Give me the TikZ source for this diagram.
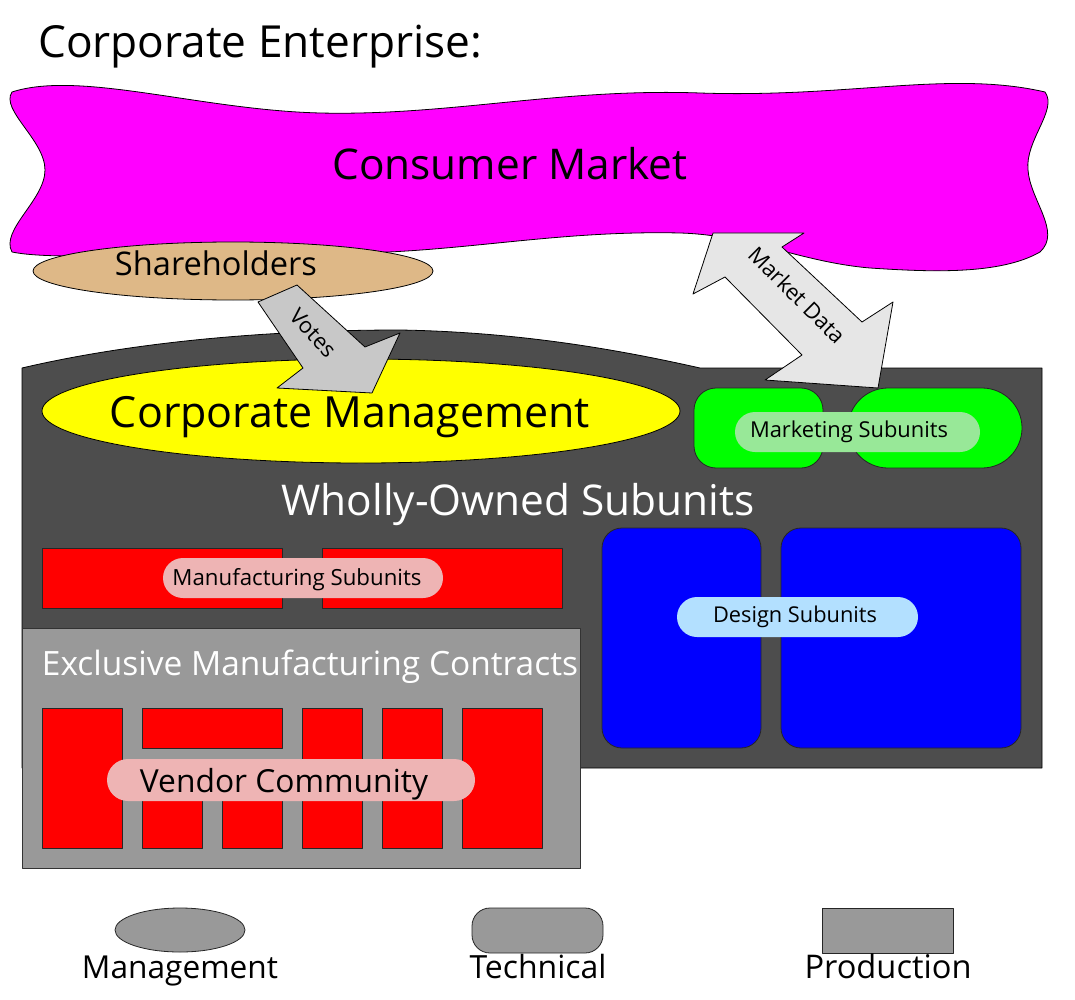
\documentclass[tikz,border=0pt]{standalone}
\usepackage{fontspec}
\setmainfont{Open Sans}
\usetikzlibrary{shapes.geometric}
\newcommand{\fitt}[2]{\resizebox{#1pt}{!}{#2}}
\definecolor{darkarea}{HTML}{4D4D4D}
\definecolor{midgray}{HTML}{999999}
\definecolor{tan}{HTML}{DEB887}
\definecolor{pinkpill}{HTML}{EEB4B4}
\definecolor{greenpill}{HTML}{98E898}
\definecolor{bluepill}{HTML}{B3E0FF}
\definecolor{lime}{HTML}{00FF00}
\definecolor{banner}{HTML}{FF00FF}
\definecolor{pureyellow}{HTML}{FFFF00}
\definecolor{purered}{HTML}{FF0000}
\definecolor{pureblue}{HTML}{0000FF}
\definecolor{arrowgray}{HTML}{C8C8C8}
\definecolor{arrowlight}{HTML}{E6E6E6}
\tikzset{
  txt/.style={inner sep=0pt, text=black},
  wtxt/.style={inner sep=0pt, text=white},
  outl/.style={draw=black, line width=0.8pt},
  redbox/.style={fill=purered, draw=black!85, line width=0.8pt},
  bluebox/.style={fill=pureblue, draw=black!85, line width=0.8pt, rounded corners=20pt},
  greenbox/.style={fill=lime, draw=black!85, line width=0.8pt},
  pill/.style={rounded corners=20pt},
  legendshape/.style={fill=midgray, draw=black!85, line width=0.8pt},
}
\begin{document}
\begin{tikzpicture}[x=1pt,y=-1pt,line join=round]
\useasboundingbox (0,0) rectangle (1075,1000);
\fill[white] (0,0) rectangle (1075,1000);

% title
\node[txt, anchor=base west] (title) at (38,58) {\fitt{444}{Corporate Enterprise:}};

% consumer market banner
\draw[outl, fill=banner] (12,92) .. controls (80,70) and (200,110) .. (320,113)
  .. controls (450,116) and (560,88) .. (700,93)
  .. controls (850,98) and (950,70) .. (1045,92)
  .. controls (1058,110) and (1025,140) .. (1028,170)
  .. controls (1030,200) and (1062,232) .. (1040,252)
  .. controls (1000,275) and (930,272) .. (870,268)
  .. controls (800,262) and (750,235) .. (680,233)
  .. controls (550,230) and (450,255) .. (330,253)
  .. controls (200,250) and (60,262) .. (12,252)
  .. controls (0,230) and (45,200) .. (45,170)
  .. controls (45,140) and (0,110) .. (12,92) -- cycle;
\node[txt, anchor=base] (cm) at (510,180) {\fitt{355}{Consumer Market}};

% wholly-owned area
\draw[outl, fill=darkarea] (22,368) .. controls (120,345) and (250,330) .. (400,330)
  .. controls (520,332) and (620,350) .. (700,368) -- (1042,368) -- (1042,768) -- (22,768) -- cycle;

% corporate management
\draw[outl, fill=pureyellow] (361,411) ellipse [x radius=319pt, y radius=52pt];
\node[txt, anchor=base] (mgmt) at (350,427) {\fitt{480}{Corporate Management}};

% marketing subunits
\draw[greenbox, rounded corners=22pt] (694,388) rectangle (823,468);
\draw[greenbox, rounded corners=40pt] (848,388) rectangle (1022,468);
\fill[greenpill, pill] (735,412) rectangle (980,452);
\node[txt, anchor=base] (mkt) at (849,437) {\fitt{198}{Marketing Subunits}};

% wholly-owned label
\node[wtxt, anchor=base] (wos) at (518,515) {\fitt{473}{Wholly-Owned Subunits}};

% manufacturing subunits
\draw[redbox] (42,548) rectangle (282,608);
\draw[redbox] (322,548) rectangle (562,608);
\fill[pinkpill, pill] (163,558) rectangle (443,598);
\node[txt, anchor=base] (mfg) at (297,585) {\fitt{249}{Manufacturing Subunits}};

% design subunits
\draw[bluebox] (602,528) rectangle (761,748);
\draw[bluebox] (781,528) rectangle (1021,748);
\fill[bluepill, pill] (677,597) rectangle (918,637);
\node[txt, anchor=base] (des) at (795,622) {\fitt{164}{Design Subunits}};

% exclusive contracts
\draw[fill=midgray, draw=black!80, line width=0.8pt] (22,628) rectangle (580,868);
\node[wtxt, anchor=base] (emc) at (310,675) {\fitt{536}{Exclusive Manufacturing Contracts}};
\draw[redbox] (42,708) rectangle (122,848);
\draw[redbox] (142,708) rectangle (282,748);
\draw[redbox] (142,770) rectangle (202,848);
\draw[redbox] (222,770) rectangle (282,848);
\draw[redbox] (302,708) rectangle (362,848);
\draw[redbox] (382,708) rectangle (442,848);
\draw[redbox] (462,708) rectangle (542,848);
\fill[pinkpill, rounded corners=21pt] (107,759) rectangle (475,801);
\node[txt, anchor=base] (ven) at (284,792) {\fitt{288}{Vendor Community}};

% shareholders
\draw[outl, fill=tan] (233,271) ellipse [x radius=200pt, y radius=29pt];
\node[txt, anchor=base] (sh) at (216,276) {\fitt{202}{Shareholders}};

% votes arrow
\draw[outl, fill=arrowgray] (258,302) -- (297,285) -- (365,347) -- (400,333) -- (372,393)
  -- (277,388) -- (303,368) -- cycle;
\node[txt, rotate=-47, font=\fontsize{22}{24}\selectfont] (votes) at (313,333) {Votes};

% market data arrow
\draw[outl, fill=arrowlight] (713,233) -- (804,233) -- (782,247) -- (862,322) -- (893,302)
  -- (878,388) -- (765,380) -- (802,355) -- (725,277) -- (693,294) -- cycle;
\node[txt, rotate=-45, font=\fontsize{22}{24}\selectfont] (md) at (797,295) {Market Data};

% legend
\draw[legendshape] (180,930) ellipse [x radius=65pt, y radius=22pt];
\draw[legendshape, rounded corners=18pt] (472,908) rectangle (603,953);
\draw[legendshape] (822,908) rectangle (953,953);
\node[txt, anchor=base] (lm) at (180,978) {\fitt{196}{Management}};
\node[txt, anchor=base] (lt) at (538,978) {\fitt{137}{Technical}};
\node[txt, anchor=base] (lp) at (888,978) {\fitt{167}{Production}};
\end{tikzpicture}
\end{document}
